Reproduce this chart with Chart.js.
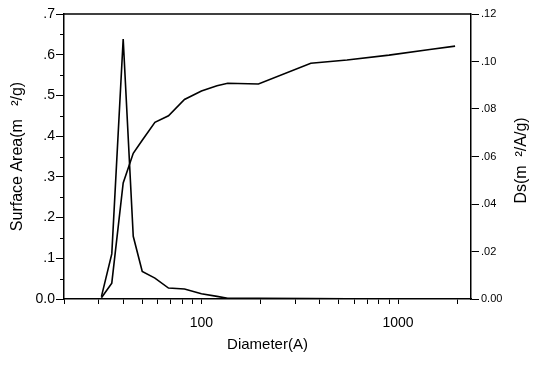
<!DOCTYPE html>
<html><head><meta charset="utf-8">
<script src="https://cdn.jsdelivr.net/npm/chart.js@4.4.0/dist/chart.umd.min.js"></script>
<style>html,body{margin:0;padding:0;background:#fff;}#wrap{width:534px;height:366px;position:relative;}</style>
</head><body><div id="wrap"><canvas id="c" width="534" height="366"></canvas></div>
<script>
const diameters = [31, 35, 40, 45, 50, 58, 68, 82, 100, 120, 136, 195, 360, 550, 900, 1450, 1950];
const surfaceArea = [0.003, 0.039, 0.285, 0.358, 0.390, 0.434, 0.450, 0.490, 0.511, 0.524, 0.530, 0.528, 0.579, 0.587, 0.599, 0.613, 0.621];
const dsValues = [0.001, 0.019, 0.1095, 0.0264, 0.0116, 0.0088, 0.0046, 0.0042, 0.0022, 0.0011, 0.0003, 0.0003, 0.0002, 0.0001, 0.0001, 0.0001, 0.0001];
const xTicks = [20, 30, 40, 50, 60, 70, 80, 90, 100, 200, 300, 400, 500, 600, 700, 800, 900, 1000, 2000];
const xLabels = [100, 1000];
const leftTicks = [0, 0.1, 0.2, 0.3, 0.4, 0.5, 0.6, 0.7];
const leftMinorTicks = [0.05, 0.15, 0.25, 0.35, 0.45, 0.55, 0.65];
const rightTicks = [0, 0.02, 0.04, 0.06, 0.08, 0.10, 0.12];
const xTitle = 'Diameter(A)';
const leftTitle = 'Surface Area(m   \u00B2/g)';
const rightTitle = 'Ds(m  \u00B2/A/g)';

const FONT = '"Liberation Sans", Arial, sans-serif';

const extras = {
  id: 'extras',
  afterDraw(chart) {
    const ctx = chart.ctx;
    const ca = chart.chartArea;
    const y = chart.scales.y;
    ctx.save();
    ctx.strokeStyle = '#000';
    ctx.lineWidth = 1.5;
    ctx.beginPath();
    ctx.moveTo(ca.left, ca.top);
    ctx.lineTo(ca.right, ca.top);
    ctx.stroke();
    ctx.lineWidth = 1;
    leftMinorTicks.forEach(v => {
      const py = Math.round(y.getPixelForValue(v)) + 0.5;
      ctx.beginPath();
      ctx.moveTo(ca.left - 4, py);
      ctx.lineTo(ca.left, py);
      ctx.stroke();
    });
    ctx.fillStyle = '#000';
    ctx.font = '16px ' + FONT;
    ctx.textAlign = 'center';
    ctx.textBaseline = 'middle';
    ctx.translate(522, (ca.top + ca.bottom) / 2 + 4);
    ctx.rotate(-Math.PI / 2);
    ctx.fillText(rightTitle, 0, 0);
    ctx.restore();
  }
};

new Chart(document.getElementById('c'), {
  type: 'line',
  data: {
    datasets: [
      { data: diameters.map((d, i) => ({x: d, y: surfaceArea[i]})), yAxisID: 'y',
        borderColor: '#000', borderWidth: 1.6, pointRadius: 0, tension: 0, fill: false },
      { data: diameters.map((d, i) => ({x: d, y: dsValues[i]})), yAxisID: 'y1',
        borderColor: '#000', borderWidth: 1.6, pointRadius: 0, tension: 0, fill: false }
    ]
  },
  options: {
    responsive: false,
    animation: false,
    events: [],
    layout: { padding: { top: 14, left: 0, right: 0, bottom: 0 } },
    plugins: { legend: { display: false }, tooltip: { enabled: false } },
    scales: {
      x: {
        type: 'logarithmic', min: 20, max: 2350,
        afterBuildTicks: s => { s.ticks = xTicks.map(v => ({ value: v })); },
        afterFit: s => { s.height = 67; },
        ticks: { autoSkip: false, maxRotation: 0, minRotation: 0, padding: 11, color: '#000',
                 font: { family: FONT, size: 14 },
                 callback: v => xLabels.includes(v) ? String(v) : '' },
        grid: { drawOnChartArea: false, drawTicks: true, tickLength: 5, color: '#000', lineWidth: 1 },
        border: { color: '#000', width: 1.5 },
        title: { display: true, text: xTitle, color: '#000', font: { family: FONT, size: 15 },
                 padding: { top: 0, bottom: 12 } }
      },
      y: {
        position: 'left', min: 0, max: 0.7,
        afterBuildTicks: s => { s.ticks = leftTicks.map(v => ({ value: v })); },
        afterFit: s => { s.width = 64; },
        ticks: { padding: 1, color: '#000', font: { family: FONT, size: 14 },
                 callback: v => v === 0 ? '0.0' : '.' + Math.round(v * 10) },
        grid: { drawOnChartArea: false, drawTicks: true, tickLength: 8, color: '#000', lineWidth: 1 },
        border: { color: '#000', width: 1.5 },
        title: { display: true, text: leftTitle, color: '#000', font: { family: FONT, size: 16 },
                 padding: { top: 8, bottom: 0 } }
      },
      y1: {
        position: 'right', min: 0, max: 0.12,
        afterBuildTicks: s => { s.ticks = rightTicks.map(v => ({ value: v })); },
        afterFit: s => { s.width = 63; },
        ticks: { padding: 2, color: '#000', font: { family: FONT, size: 11 },
                 callback: v => v === 0 ? '0.00' : '.' + String(Math.round(v * 100)).padStart(2, '0') },
        grid: { drawOnChartArea: false, drawTicks: true, tickLength: 8, color: '#000', lineWidth: 1 },
        border: { color: '#000', width: 1.5 }
      }
    }
  },
  plugins: [extras]
});
</script>
</body></html>
